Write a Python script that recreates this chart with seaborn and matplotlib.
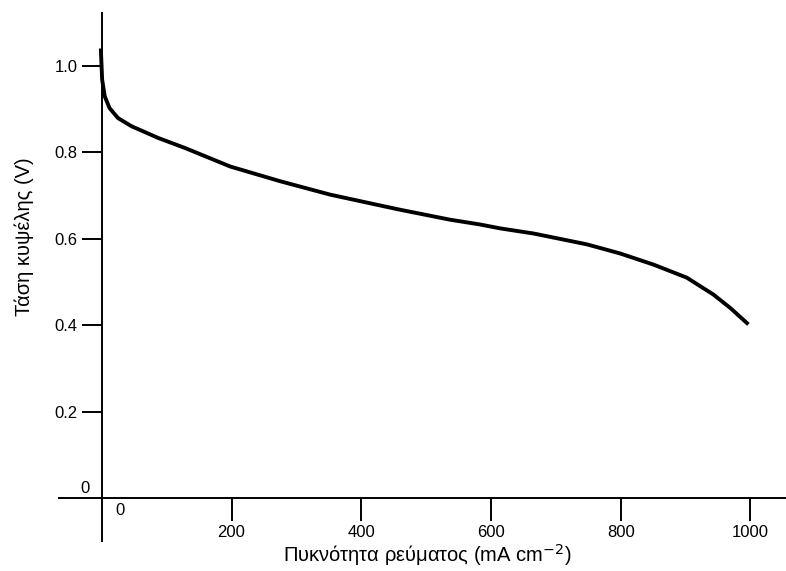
import seaborn as sns
import matplotlib.pyplot as plt

# Data
current_density = [-1.5, 0.5, 4.6, 12, 25, 46, 87, 128, 198, 275, 352, 429, 460,
                   537, 583, 614, 666, 748, 799, 851, 902, 943, 969, 997]
cell_voltage = [1.040, 0.968, 0.929, 0.902, 0.879, 0.860, 0.833, 0.810, 0.767,
                0.733, 0.702, 0.677, 0.667, 0.644, 0.633, 0.624, 0.612, 0.587,
                0.566, 0.540, 0.510, 0.471, 0.440, 0.402]
x_ticks = [200, 400, 600, 800, 1000]
y_ticks = [0.2, 0.4, 0.6, 0.8, 1.0]
y_ticklabels = ['0.2', '0.4', '0.6', '0.8', '1.0']

sns.set_style("white")
plt.rcParams['font.family'] = ['Liberation Sans', 'DejaVu Sans']
plt.rcParams['axes.unicode_minus'] = False
plt.rcParams['text.color'] = 'black'
plt.rcParams['axes.labelcolor'] = 'black'
plt.rcParams['xtick.color'] = 'black'
plt.rcParams['ytick.color'] = 'black'

fig = plt.figure(figsize=(7.86, 5.71), dpi=100)
ax = fig.add_axes([59 / 786, 1 - 541 / 571, 727 / 786, 528 / 571])

sns.lineplot(x=current_density, y=cell_voltage, sort=False, estimator=None,
             color='black', lw=2.8, ax=ax)
ax.lines[0].set_solid_joinstyle('round')
ax.lines[0].set_solid_capstyle('butt')

ax.set_xlim(-66, 1055)
ax.set_ylim(-0.099, 1.122)

# axes crossing at the origin
ax.spines['left'].set_position(('data', 0))
ax.spines['bottom'].set_position(('data', 0))
ax.spines['right'].set_visible(False)
ax.spines['top'].set_visible(False)
for s in ['left', 'bottom']:
    ax.spines[s].set_linewidth(1.4)
    ax.spines[s].set_color('black')

ax.set_xticks(x_ticks)
ax.set_xticklabels([str(t) for t in x_ticks])
ax.set_yticks(y_ticks)
ax.set_yticklabels(y_ticklabels)
ax.tick_params(axis='x', direction='out', length=16.5, width=1.4, pad=3,
               labelsize=12, bottom=True)
ax.tick_params(axis='y', direction='out', length=14.4, width=1.4, pad=3,
               labelsize=12, left=True)

# the two zeros at the origin
ax.annotate('0', xy=(0, 0), xytext=(13, -9), textcoords='offset points',
            ha='center', va='center', fontsize=12)
ax.annotate('0', xy=(0, 0), xytext=(-12, 7), textcoords='offset points',
            ha='center', va='center', fontsize=12)

ax.set_xlabel('Πυκνότητα ρεύματος (mA cm$^{-2}$)', fontsize=14.5)
ax.set_ylabel('Τάση κυψέλης (V)', fontsize=14.5)
ax.xaxis.set_label_coords(0.506, -0.003)
ax.yaxis.set_label_coords(-0.035, 0.576)

plt.savefig("out.png", dpi=100)
